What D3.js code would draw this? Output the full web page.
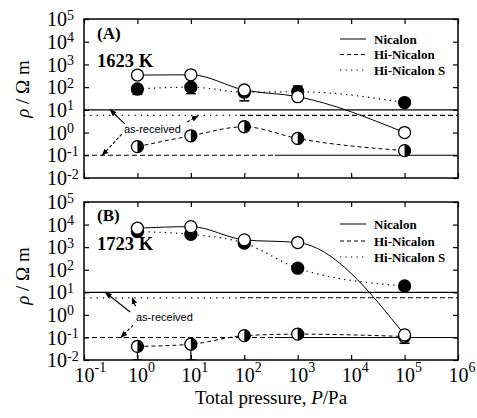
<!DOCTYPE html>
<html><head><meta charset="utf-8">
<script src="https://cdn.jsdelivr.net/npm/d3@7"></script>
<style>body{margin:0;background:#fff} svg{display:block}</style>
</head><body>
<svg id="c" width="477" height="418"></svg>
<script>
// ---------------- data ----------------
const pressures = [1, 10, 100, 1000, 100000];
const seriesNames = ["Nicalon", "Hi-Nicalon", "Hi-Nicalon S"];
const nicalonA = [340, 350, 75, 38, 1.0];
const hiNicalonA = [0.24, 0.72, 1.8, 0.55, 0.16];
const hiNicalonSA = [83, 100, 60, 63, 21];
const nicalonB = [6900, 8100, 2100, 1600, 0.13];
const hiNicalonB = [0.04, 0.05, 0.12, 0.14, 0.11];
const hiNicalonSB = [4900, 3700, 1500, 117, 19];
const asReceivedValues = [10, 0.1, 5.7];   // Nicalon, Hi-Nicalon, Hi-Nicalon S
const errorBarsA = [
  {s: "Hi-Nicalon S", p: 1, lo: 48, hi: 83},
  {s: "Hi-Nicalon S", p: 10, lo: 52, hi: 100},
  {s: "Nicalon", p: 100, lo: 25, hi: 75},
  {s: "Hi-Nicalon S", p: 1000, lo: 63, hi: 112}
];
const errorBarsB = [
  {s: "Hi-Nicalon", p: 1, lo: 0.01, hi: 0.04},
  {s: "Hi-Nicalon", p: 10, lo: 0.01, hi: 0.05},
  {s: "Nicalon", p: 100000, lo: 0.055, hi: 0.13}
];
const xTickValues = [1e-1, 1e0, 1e1, 1e2, 1e3, 1e4, 1e5, 1e6];
const xTickExponents = ["-1", "0", "1", "2", "3", "4", "5", "6"];
const yTickValues = [1e-2, 1e-1, 1e0, 1e1, 1e2, 1e3, 1e4, 1e5];
const yTickExponents = ["-2", "-1", "0", "1", "2", "3", "4", "5"];
const panelLabels = ["(A)", "(B)"];
const tempLabels = ["1623 K", "1723 K"];
const annotationText = "as-received";
const xTitle = ["Total pressure, ", "P", "/Pa"];
const yTitle = ["\u03c1", " / \u03a9 m"];

// ---------------- layout ----------------
const svg = d3.select("#c");
const SERIF = "'Liberation Serif','Times New Roman','DejaVu Serif',serif";
const SANS = "'Liberation Sans',Arial,sans-serif";
const L = 84, R = 458;
const x = d3.scaleLog().domain([1e-1, 1e6]).range([L, R]);

const defs = svg.append("defs");
defs.append("marker").attr("id", "ah").attr("viewBox", "0 0 10 10")
  .attr("refX", 9).attr("refY", 5).attr("markerWidth", 7).attr("markerHeight", 7)
  .attr("markerUnits", "userSpaceOnUse").attr("orient", "auto")
  .append("path").attr("d", "M0,1 L10,5 L0,9 Z").attr("fill", "#000");

const panels = [
  {top: 19, bottom: 178, data: {"Nicalon": nicalonA, "Hi-Nicalon": hiNicalonA, "Hi-Nicalon S": hiNicalonSA},
   err: errorBarsA, legendY: [39, 54.5, 70], labelY: 39, tempY: 67, titleY: 89,
   text: {p: 1.9, v: 0.95},
   arrows: [
     {from: [0.58, 2.4], to: [0.31, 10], dash: null},
     {from: [0.51, 0.86], to: [0.22, 0.1], dash: "3,2"},
     {from: [8.5, 2.9], to: [13.6, 5.4], dash: "3,2"}
   ]},
  {top: 202, bottom: 360, data: {"Nicalon": nicalonB, "Hi-Nicalon": hiNicalonB, "Hi-Nicalon S": hiNicalonSB},
   err: errorBarsB, legendY: [224, 241, 257], labelY: 221, tempY: 250, titleY: 276,
   text: {p: 3.2, v: 0.54},
   arrows: [
     {from: [0.73, 1.34], to: [0.25, 10], dash: null},
     {from: [0.92, 2.4], to: [0.8, 5.7], dash: null},
     {from: [0.83, 0.35], to: [0.49, 0.1], dash: "3,2"}
   ]}
];

const styles = {
  "Nicalon": {dash: null, w: 1},
  "Hi-Nicalon": {dash: "4,3", w: 1},
  "Hi-Nicalon S": {dash: "1.3,4.2", w: 1.2}
};

function drawMarker(g, s, cx, cy) {
  const r = 6;
  if (s === "Nicalon") {
    g.append("circle").attr("cx", cx).attr("cy", cy).attr("r", r)
      .attr("fill", "#fff").attr("stroke", "#000").attr("stroke-width", 1.3);
  } else if (s === "Hi-Nicalon S") {
    g.append("circle").attr("cx", cx).attr("cy", cy).attr("r", r)
      .attr("fill", "#000").attr("stroke", "#000").attr("stroke-width", 1.3);
  } else {
    g.append("circle").attr("cx", cx).attr("cy", cy).attr("r", r)
      .attr("fill", "#fff").attr("stroke", "#000").attr("stroke-width", 1.3);
    g.append("path").attr("d", `M${cx},${cy - r} A${r},${r} 0 0 1 ${cx},${cy + r} Z`).attr("fill", "#000");
  }
}

panels.forEach((P, pi) => {
  const y = d3.scaleLog().domain([1e-2, 1e5]).range([P.bottom, P.top]);
  const g = svg.append("g");
  const clipId = "clip" + pi;
  defs.append("clipPath").attr("id", clipId).append("rect")
    .attr("x", L).attr("y", P.top).attr("width", R - L).attr("height", P.bottom - P.top);

  // axes (inward ticks all round)
  const axL = g.append("g").attr("transform", `translate(${L},0)`)
    .call(d3.axisLeft(y).tickValues(yTickValues).tickSize(-5).tickPadding(0));
  const axR = g.append("g").attr("transform", `translate(${R},0)`)
    .call(d3.axisRight(y).tickValues(yTickValues).tickSize(-5).tickFormat(""));
  const axT = g.append("g").attr("transform", `translate(0,${P.top})`)
    .call(d3.axisTop(x).tickValues(xTickValues).tickSize(-5).tickFormat(""));
  const axB = g.append("g").attr("transform", `translate(0,${P.bottom})`)
    .call(d3.axisBottom(x).tickValues(xTickValues).tickSize(-5).tickPadding(0));
  [axL, axR, axT, axB].forEach(a => {
    a.select(".domain").remove();
    a.attr("font-family", SERIF);
    a.selectAll("line").attr("stroke", "#000").attr("stroke-width", 1.2);
  });
  // y labels with superscripts
  axL.selectAll(".tick text").each(function(d, i) {
    const t = d3.select(this);
    t.text(null).attr("x", 47 - L).attr("y", 6.6).attr("dy", null)
      .attr("text-anchor", "start").attr("font-family", SERIF).attr("font-size", 20).attr("fill", "#000");
    t.append("tspan").text("10");
    t.append("tspan").attr("dy", -6.6).attr("font-size", 14).text(yTickExponents[i]);
  });
  if (pi === 1) {
    axB.selectAll(".tick text").each(function(d, i) {
      const t = d3.select(this);
      t.text(null).attr("x", -10).attr("y", 22).attr("dy", null)
        .attr("text-anchor", "start").attr("font-family", SERIF).attr("font-size", 20).attr("fill", "#000");
      t.append("tspan").text("10");
      t.append("tspan").attr("dy", -10).attr("font-size", 14).text(xTickExponents[i]);
    });
  } else {
    axB.selectAll(".tick text").remove();
  }

  // frame
  g.append("rect").attr("x", L).attr("y", P.top).attr("width", R - L).attr("height", P.bottom - P.top)
    .attr("fill", "none").attr("stroke", "#000").attr("stroke-width", 1.5);

  const plot = g.append("g").attr("clip-path", `url(#${clipId})`);

  // as-received reference lines
  const [xa, xb] = x.domain();
  // Nicalon: solid
  plot.append("line").attr("x1", x(xa)).attr("x2", x(xb))
    .attr("y1", y(asReceivedValues[0])).attr("y2", y(asReceivedValues[0]))
    .attr("stroke", "#000").attr("stroke-width", 1.3);
  // Hi-Nicalon: dashed, becoming solid
  plot.append("line").attr("x1", x(xa)).attr("x2", x(370))
    .attr("y1", y(asReceivedValues[1])).attr("y2", y(asReceivedValues[1]))
    .attr("stroke", "#000").attr("stroke-width", 1.1).attr("stroke-dasharray", "5,3");
  plot.append("line").attr("x1", x(370)).attr("x2", x(xb))
    .attr("y1", y(asReceivedValues[1])).attr("y2", y(asReceivedValues[1]))
    .attr("stroke", "#000").attr("stroke-width", 1.1);
  // Hi-Nicalon S: dotted, becoming dashed
  plot.append("line").attr("x1", x(xa)).attr("x2", x(83))
    .attr("y1", y(asReceivedValues[2])).attr("y2", y(asReceivedValues[2]))
    .attr("stroke", "#000").attr("stroke-width", 1.2).attr("stroke-dasharray", "1.3,5");
  plot.append("line").attr("x1", x(83)).attr("x2", x(xb))
    .attr("y1", y(asReceivedValues[2])).attr("y2", y(asReceivedValues[2]))
    .attr("stroke", "#000").attr("stroke-width", 1.1).attr("stroke-dasharray", "5,3");

  // series curves
  const line = d3.line().x(d => x(d[0])).y(d => y(d[1])).curve(d3.curveMonotoneX);
  seriesNames.forEach(s => {
    const pts = pressures.map((p, i) => [p, P.data[s][i]]);
    plot.append("path").attr("d", line(pts)).attr("fill", "none")
      .attr("stroke", "#000").attr("stroke-width", styles[s].w)
      .attr("stroke-dasharray", styles[s].dash);
  });

  // error bars
  P.err.forEach(e => {
    const cx = x(e.p);
    plot.append("line").attr("x1", cx).attr("x2", cx).attr("y1", y(e.lo)).attr("y2", y(e.hi))
      .attr("stroke", "#000").attr("stroke-width", 1.2);
    [e.lo, e.hi].forEach(v => {
      plot.append("line").attr("x1", cx - 5).attr("x2", cx + 5).attr("y1", y(v)).attr("y2", y(v))
        .attr("stroke", "#000").attr("stroke-width", 1.5);
    });
  });

  // markers (filled first, open on top)
  ["Hi-Nicalon S", "Hi-Nicalon", "Nicalon"].forEach(s => {
    pressures.forEach((p, i) => drawMarker(g, s, x(p), y(P.data[s][i])));
  });

  // annotations
  g.append("text").attr("x", x(P.text.p)).attr("y", y(P.text.v)).attr("text-anchor", "middle")
    .attr("font-family", SANS).attr("font-size", 11).attr("fill", "#000").text(annotationText);
  P.arrows.forEach(a => {
    g.append("line").attr("x1", x(a.from[0])).attr("y1", y(a.from[1]))
      .attr("x2", x(a.to[0])).attr("y2", y(a.to[1]))
      .attr("stroke", "#000").attr("stroke-width", 1.1)
      .attr("stroke-dasharray", a.dash).attr("marker-end", "url(#ah)");
  });

  // panel labels
  g.append("text").attr("x", 97).attr("y", P.labelY).attr("font-family", SERIF)
    .attr("font-weight", "bold").attr("font-size", 17).text(panelLabels[pi]);
  g.append("text").attr("x", 97).attr("y", P.tempY).attr("font-family", SERIF)
    .attr("font-weight", "bold").attr("font-size", 18.5).text(tempLabels[pi]);

  // legend
  seriesNames.forEach((s, i) => {
    const ly = P.legendY[i];
    g.append("line").attr("x1", 340).attr("x2", 366).attr("y1", ly).attr("y2", ly)
      .attr("stroke", "#000").attr("stroke-width", styles[s].w).attr("stroke-dasharray", styles[s].dash);
    g.append("text").attr("x", 374).attr("y", ly + 4.5).attr("font-family", SERIF)
      .attr("font-weight", "bold").attr("font-size", 13).text(s);
  });

  // y title
  const yt = g.append("text").attr("transform", `translate(29,${P.titleY}) rotate(-90)`)
    .attr("text-anchor", "middle").attr("font-family", SERIF).attr("font-size", 19);
  yt.append("tspan").attr("font-style", "italic").text(yTitle[0]);
  yt.append("tspan").text(yTitle[1]);
});

// x title
const xt = svg.append("text").attr("x", 271).attr("y", 404).attr("text-anchor", "middle")
  .attr("font-family", SERIF).attr("font-size", 19);
xt.append("tspan").text(xTitle[0]);
xt.append("tspan").attr("font-style", "italic").text(xTitle[1]);
xt.append("tspan").text(xTitle[2]);
</script>
</body></html>
